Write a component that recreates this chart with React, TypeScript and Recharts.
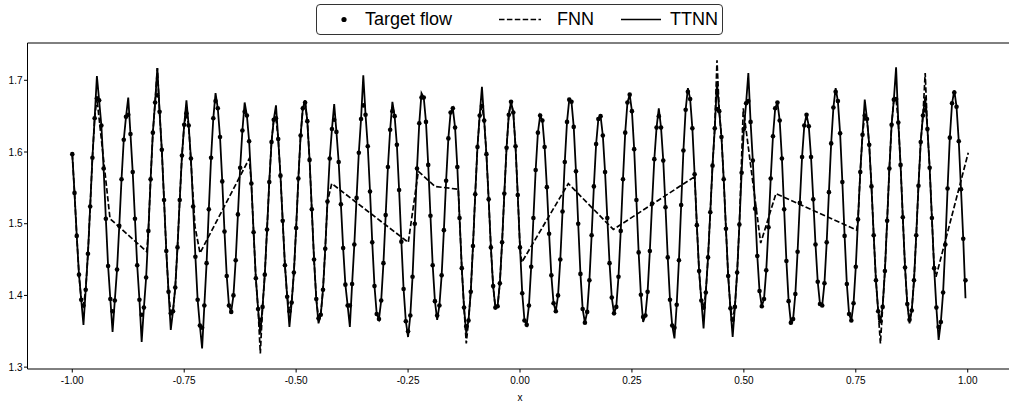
import { ComposedChart, Line, ReferenceLine, XAxis, YAxis } from 'recharts'

// sample grid of the target flow: x = X_START + i * X_STEP
const X_START = -1
const X_STEP = 0.005

// target flow samples (one row per oscillation)
const TARGET_FLOW = [
  1.597, 1.543, 1.483, 1.429, 1.394,
  1.386, 1.408, 1.458, 1.524, 1.592, 1.647, 1.675, 1.672, 1.637, 1.577, 1.507, 1.441, 1.395,
  1.378, 1.393, 1.436, 1.497, 1.562, 1.617, 1.649, 1.652, 1.625, 1.572, 1.507, 1.442, 1.394, 1.373,
  1.383, 1.425, 1.49, 1.562, 1.627, 1.669, 1.679, 1.656, 1.603, 1.533, 1.462, 1.405, 1.375,
  1.378, 1.411, 1.467, 1.533, 1.595, 1.638, 1.654, 1.637, 1.591, 1.524, 1.454, 1.394, 1.358,
  1.355, 1.386, 1.445, 1.52, 1.592, 1.647, 1.671, 1.661, 1.621, 1.559, 1.489, 1.427, 1.386,
  1.377, 1.4, 1.449, 1.513, 1.578, 1.63, 1.656, 1.651, 1.615, 1.556, 1.488, 1.424, 1.381,
  1.366, 1.384, 1.429, 1.492, 1.558, 1.614, 1.645, 1.647, 1.618, 1.567, 1.504, 1.442, 1.398, 1.378,
  1.39, 1.432, 1.494, 1.563, 1.623, 1.661, 1.669, 1.643, 1.589, 1.52, 1.45, 1.395, 1.368,
  1.373, 1.408, 1.465, 1.531, 1.591, 1.632, 1.645, 1.628, 1.586, 1.527, 1.466, 1.415, 1.386,
  1.386, 1.416, 1.471, 1.536, 1.599, 1.646, 1.665, 1.652, 1.608, 1.545, 1.474, 1.413, 1.374,
  1.367, 1.393, 1.445, 1.512, 1.579, 1.631, 1.657, 1.65, 1.61, 1.547, 1.475, 1.409, 1.364,
  1.35, 1.372, 1.426, 1.5, 1.577, 1.64, 1.676, 1.676, 1.642, 1.582, 1.511, 1.442, 1.392, 1.372,
  1.386, 1.428, 1.491, 1.56, 1.619, 1.655, 1.661, 1.634, 1.579, 1.508, 1.438, 1.383, 1.357,
  1.365, 1.405, 1.469, 1.541, 1.607, 1.651, 1.664, 1.644, 1.597, 1.534, 1.467, 1.413, 1.383,
  1.385, 1.417, 1.474, 1.542, 1.606, 1.652, 1.67, 1.655, 1.608, 1.54, 1.467, 1.403, 1.365,
  1.359, 1.386, 1.44, 1.508, 1.575, 1.627, 1.651, 1.644, 1.607, 1.551, 1.486, 1.428, 1.389,
  1.378, 1.4, 1.45, 1.517, 1.586, 1.642, 1.673, 1.67, 1.635, 1.573, 1.5, 1.43, 1.381, 1.362,
  1.377, 1.421, 1.484, 1.552, 1.611, 1.646, 1.65, 1.623, 1.572, 1.508, 1.445, 1.397, 1.375,
  1.384, 1.426, 1.49, 1.562, 1.627, 1.669, 1.68, 1.657, 1.604, 1.533, 1.46, 1.401, 1.37,
  1.372, 1.405, 1.462, 1.528, 1.59, 1.634, 1.65, 1.634, 1.588, 1.523, 1.453, 1.394, 1.358,
  1.355, 1.387, 1.449, 1.526, 1.602, 1.659, 1.684, 1.674, 1.633, 1.569, 1.498, 1.434, 1.393,
  1.383, 1.404, 1.453, 1.516, 1.581, 1.633, 1.66, 1.657, 1.621, 1.562, 1.493, 1.427, 1.382,
  1.366, 1.384, 1.432, 1.499, 1.571, 1.632, 1.668, 1.671, 1.642, 1.588, 1.521, 1.455, 1.406, 1.385,
  1.395, 1.435, 1.495, 1.563, 1.622, 1.661, 1.669, 1.644, 1.591, 1.52, 1.448, 1.392, 1.362,
  1.367, 1.402, 1.461, 1.529, 1.593, 1.637, 1.652, 1.636, 1.593, 1.534, 1.471, 1.419, 1.388,
  1.386, 1.417, 1.474, 1.544, 1.612, 1.662, 1.684, 1.671, 1.626, 1.558, 1.483, 1.416, 1.374,
  1.365, 1.389, 1.44, 1.506, 1.572, 1.624, 1.651, 1.646, 1.61, 1.552, 1.484, 1.421, 1.378,
  1.364, 1.384, 1.434, 1.504, 1.577, 1.638, 1.673, 1.674, 1.641, 1.582, 1.509, 1.439, 1.388, 1.366,
  1.379, 1.421, 1.484, 1.553, 1.614, 1.651, 1.658, 1.632, 1.578, 1.508, 1.438, 1.383, 1.356,
  1.363, 1.404, 1.471, 1.549, 1.62, 1.668, 1.683, 1.663, 1.615, 1.548, 1.479, 1.421,
]

// TTNN follows the target but overshoots at most extremes: [sample index, value]
const TTNN_TIPS: [number, number][] = [
  [5, 1.359], [11, 1.706], [18, 1.349], [25, 1.676], [31, 1.335], [38, 1.717], [44, 1.352],
  [51, 1.672], [58, 1.326], [64, 1.682], [77, 1.669], [84, 1.347], [91, 1.665], [97, 1.356],
  [104, 1.672], [110, 1.361], [117, 1.667], [124, 1.356], [130, 1.707], [143, 1.67], [150, 1.342],
  [156, 1.682], [163, 1.366], [176, 1.347], [183, 1.691], [255, 1.363], [262, 1.661], [269, 1.34],
  [275, 1.689], [282, 1.354], [288, 1.698], [295, 1.342], [302, 1.71], [341, 1.689], [354, 1.673],
  [368, 1.718], [374, 1.361], [381, 1.677], [387, 1.338], [394, 1.686], [399, 1.396],
]

// FNN: sample ranges where it sits on the target, spikes, and the points of its straight stretches
const FNN_TRACKED: [number, number][] = [[0, 11], [34, 52], [80, 114], [173, 200], [278, 298], [351, 385]]
const FNN_SPIKES: [number, number][] = [[38, 1.717], [84, 1.319], [176, 1.333], [288, 1.728], [361, 1.333], [381, 1.71]]
const FNN_GAP_POINTS: [number, number][] = [
  [-0.9157, 1.507], [-0.8337, 1.461],
  [-0.7259, 1.496], [-0.7147, 1.459], [-0.6046, 1.591],
  [-0.4205, 1.556], [-0.2495, 1.474], [-0.2271, 1.573], [-0.1898, 1.552], [-0.1378, 1.548],
  [0.0038, 1.446], [0.1079, 1.556], [0.2084, 1.492], [0.3886, 1.565],
  [0.4987, 1.661], [0.5376, 1.473], [0.5717, 1.542], [0.752, 1.491],
  [0.9291, 1.426], [1.0012, 1.599],
]

const X_TICKS = [-1, -0.75, -0.5, -0.25, 0, 0.25, 0.5, 0.75, 1]
const Y_TICKS = [1.3, 1.4, 1.5, 1.6, 1.7]
const Y_DOMAIN: [number, number] = [1.2974, 1.752]

const sampleX = (i: number) => +(X_START + i * X_STEP).toFixed(4)

const targetPts = TARGET_FLOW.map((y, i) => ({ x: sampleX(i), y }))

const tipMap = new Map(TTNN_TIPS)
const ttnnPts = targetPts.map((p, i) => ({ x: p.x, y: tipMap.get(i) ?? p.y }))

const spikeMap = new Map(FNN_SPIKES)
const fnnPts = [
  ...FNN_TRACKED.flatMap(([a, b]) =>
    targetPts.slice(a, b + 1).map((p, k) => ({ x: p.x, y: spikeMap.get(a + k) ?? p.y })),
  ),
  ...FNN_GAP_POINTS.map(([x, y]) => ({ x, y })),
].sort((p, q) => p.x - q.x)

const FONT = '"Liberation Sans", Arial, sans-serif'

function LegendBox() {
  const text = { position: 'absolute' as const, top: 0, lineHeight: '29px', fontSize: 18, color: '#000' }
  return (
    <div
      style={{
        position: 'absolute', left: 316, top: 4, width: 407, height: 31, boxSizing: 'border-box',
        border: '1px solid #333', borderRadius: 4, background: '#fff',
      }}
    >
      <svg width={405} height={29} style={{ position: 'absolute', left: 0, top: 0 }}>
        <circle cx={27} cy={14.5} r={2.6} fill="#000" />
        <line x1={182} x2={224} y1={14.5} y2={14.5} stroke="#000" strokeWidth={1.7} strokeDasharray="5.5 2.4" />
        <line x1={304} x2={344} y1={14.5} y2={14.5} stroke="#000" strokeWidth={1.7} />
      </svg>
      <span style={{ ...text, left: 48 }}>Target flow</span>
      <span style={{ ...text, left: 240 }}>FNN</span>
      <span style={{ ...text, left: 353 }}>TTNN</span>
    </div>
  )
}

export default function App() {
  return (
    <div
      style={{
        position: 'absolute', left: 0, top: 0, width: 1009, height: 402, overflow: 'hidden',
        background: '#fff', fontFamily: FONT,
      }}
    >
      <ComposedChart width={1030} height={402} margin={{ top: 43, right: 17.5, bottom: 0, left: 0 }}>
        <XAxis
          type="number"
          dataKey="x"
          domain={[-1.1, 1.1]}
          allowDataOverflow
          ticks={X_TICKS}
          tickFormatter={(v: number) => v.toFixed(2)}
          height={33}
          tickSize={3.5}
          tickMargin={4}
          stroke="#000"
          tick={{ fontSize: 10, fill: '#000' }}
          label={{ value: 'x', position: 'insideBottom', offset: 1.5, fontSize: 10, fill: '#000' }}
        />
        <YAxis
          type="number"
          domain={Y_DOMAIN}
          allowDataOverflow
          ticks={Y_TICKS}
          tickFormatter={(v: number) => v.toFixed(1)}
          width={27.5}
          tickSize={3.5}
          tickMargin={1.5}
          stroke="#000"
          tick={{ fontSize: 10, fill: '#000' }}
        />
        <ReferenceLine y={Y_DOMAIN[1]} stroke="#000" strokeWidth={1} />
        <Line
          data={targetPts}
          dataKey="y"
          name="Target flow"
          type="linear"
          stroke="none"
          dot={{ r: 2.3, fill: '#000', stroke: 'none' }}
          isAnimationActive={false}
        />
        <Line
          data={fnnPts}
          dataKey="y"
          name="FNN"
          type="linear"
          stroke="#000"
          strokeWidth={1.7}
          strokeDasharray="5.5 2.4"
          dot={false}
          isAnimationActive={false}
        />
        <Line
          data={ttnnPts}
          dataKey="y"
          name="TTNN"
          type="linear"
          stroke="#000"
          strokeWidth={1.8}
          dot={false}
          isAnimationActive={false}
        />
      </ComposedChart>
      <LegendBox />
    </div>
  )
}
